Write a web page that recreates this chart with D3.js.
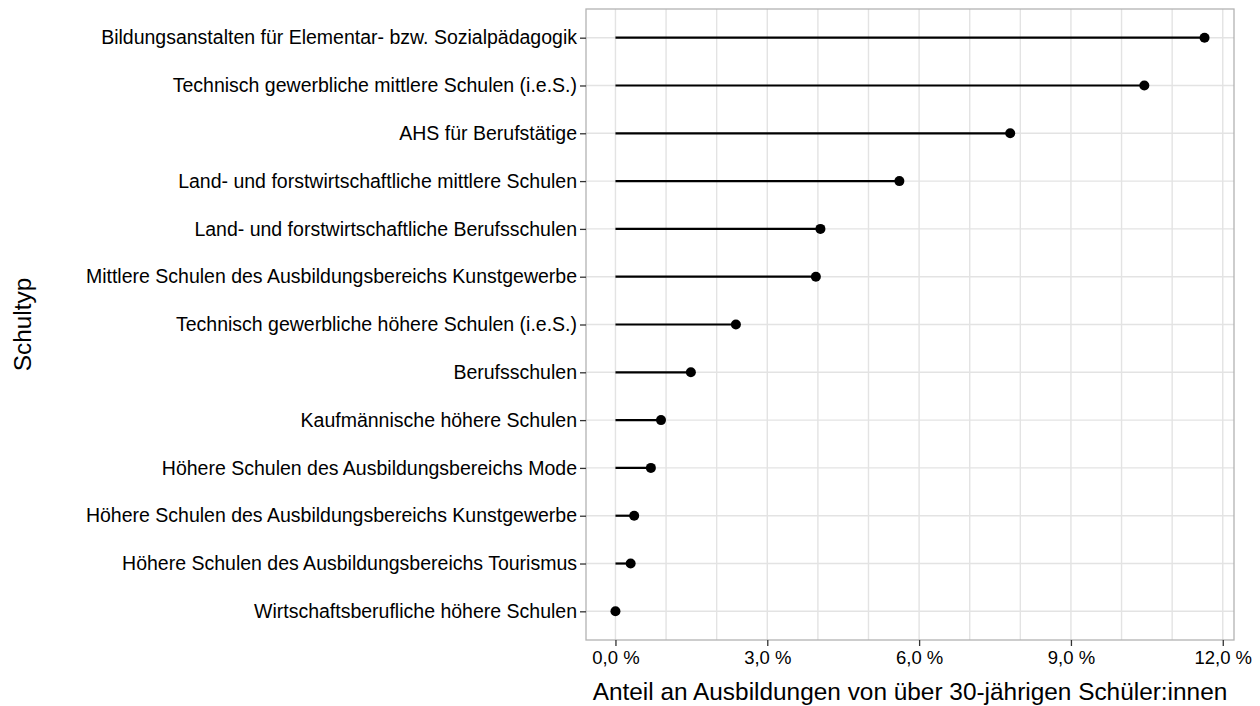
<!DOCTYPE html>
<html>
<head>
<meta charset="utf-8">
<script src="https://cdn.jsdelivr.net/npm/d3@7"></script>
<style>
  body { margin: 0; background: #fff; }
  svg { display: block; font-family: "Liberation Sans", Arial, sans-serif; }
</style>
</head>
<body>
<svg id="chart" width="1260" height="706"></svg>
<script>
const categories = [
  "Bildungsanstalten für Elementar- bzw. Sozialpädagogik",
  "Technisch gewerbliche mittlere Schulen (i.e.S.)",
  "AHS für Berufstätige",
  "Land- und forstwirtschaftliche mittlere Schulen",
  "Land- und forstwirtschaftliche Berufsschulen",
  "Mittlere Schulen des Ausbildungsbereichs Kunstgewerbe",
  "Technisch gewerbliche höhere Schulen (i.e.S.)",
  "Berufsschulen",
  "Kaufmännische höhere Schulen",
  "Höhere Schulen des Ausbildungsbereichs Mode",
  "Höhere Schulen des Ausbildungsbereichs Kunstgewerbe",
  "Höhere Schulen des Ausbildungsbereichs Tourismus",
  "Wirtschaftsberufliche höhere Schulen"
];
const values = [11.64, 10.45, 7.80, 5.61, 4.05, 3.96, 2.38, 1.49, 0.90, 0.70, 0.37, 0.30, 0.00];
const xTicks = [0, 3, 6, 9, 12];
const xGrid = [0,1,2,3,4,5,6,7,8,9,10,11,12];
const xTitle = "Anteil an Ausbildungen von über 30-jährigen Schüler:innen";
const yTitle = "Schultyp";

const svg = d3.select("#chart");
const panel = {left: 586, right: 1234, top: 9, bottom: 640};

const maxV = d3.max(values);
const pad = maxV * 0.05;
const x = d3.scaleLinear().domain([0 - pad, maxV + pad]).range([panel.left, panel.right]);
const y = d3.scalePoint().domain(categories).range([panel.top, panel.bottom]).padding(0.6);

// gridlines
const g = svg.append("g");
g.selectAll(".vg").data(xGrid).join("line")
  .attr("x1", d => x(d)).attr("x2", d => x(d))
  .attr("y1", panel.top).attr("y2", panel.bottom)
  .attr("stroke", "#e3e3e3").attr("stroke-width", 1.4);
g.selectAll(".hg").data(categories).join("line")
  .attr("x1", panel.left).attr("x2", panel.right)
  .attr("y1", d => y(d)).attr("y2", d => y(d))
  .attr("stroke", "#e3e3e3").attr("stroke-width", 1.4);

// lollipops
const data = categories.map((c, i) => ({c, v: values[i]}));
svg.append("g").selectAll("line").data(data).join("line")
  .attr("x1", x(0)).attr("x2", d => x(d.v))
  .attr("y1", d => y(d.c)).attr("y2", d => y(d.c))
  .attr("stroke", "#000").attr("stroke-width", 2.2);
svg.append("g").selectAll("circle").data(data).join("circle")
  .attr("cx", d => x(d.v)).attr("cy", d => y(d.c)).attr("r", 5)
  .attr("fill", "#000");

// panel border
svg.append("rect")
  .attr("x", panel.left).attr("y", panel.top)
  .attr("width", panel.right - panel.left).attr("height", panel.bottom - panel.top)
  .attr("fill", "none").attr("stroke", "#b3b3b3").attr("stroke-width", 1.3);

// x axis
const xAxis = d3.axisBottom(x).tickValues(xTicks)
  .tickFormat(d => d3.format(".1f")(d).replace(".", ",") + " %")
  .tickSize(6).tickPadding(5);
const xg = svg.append("g").attr("transform", `translate(0,${panel.bottom})`).call(xAxis);
xg.select(".domain").remove();
xg.selectAll(".tick line").attr("stroke", "#333").attr("stroke-width", 1.3);
xg.selectAll(".tick text").attr("fill", "#000").attr("font-size", 18.5)
  .attr("font-family", "Liberation Sans, Arial, sans-serif");

// y axis
const yAxis = d3.axisLeft(y).tickSize(6).tickPadding(3);
const yg = svg.append("g").attr("transform", `translate(${panel.left},0)`).call(yAxis);
yg.select(".domain").remove();
yg.selectAll(".tick line").attr("stroke", "#333").attr("stroke-width", 1.3);
yg.selectAll(".tick text").attr("fill", "#000").attr("font-size", 19.5)
  .attr("font-family", "Liberation Sans, Arial, sans-serif");

// titles
svg.append("text").attr("x", (panel.left + panel.right) / 2).attr("y", 700)
  .attr("text-anchor", "middle").attr("font-size", 24.4).attr("fill", "#000")
  .text(xTitle);
svg.append("text").attr("transform", `translate(31,${(panel.top + panel.bottom) / 2}) rotate(-90)`)
  .attr("text-anchor", "middle").attr("font-size", 24.4).attr("fill", "#000")
  .text(yTitle);
</script>
</body>
</html>
